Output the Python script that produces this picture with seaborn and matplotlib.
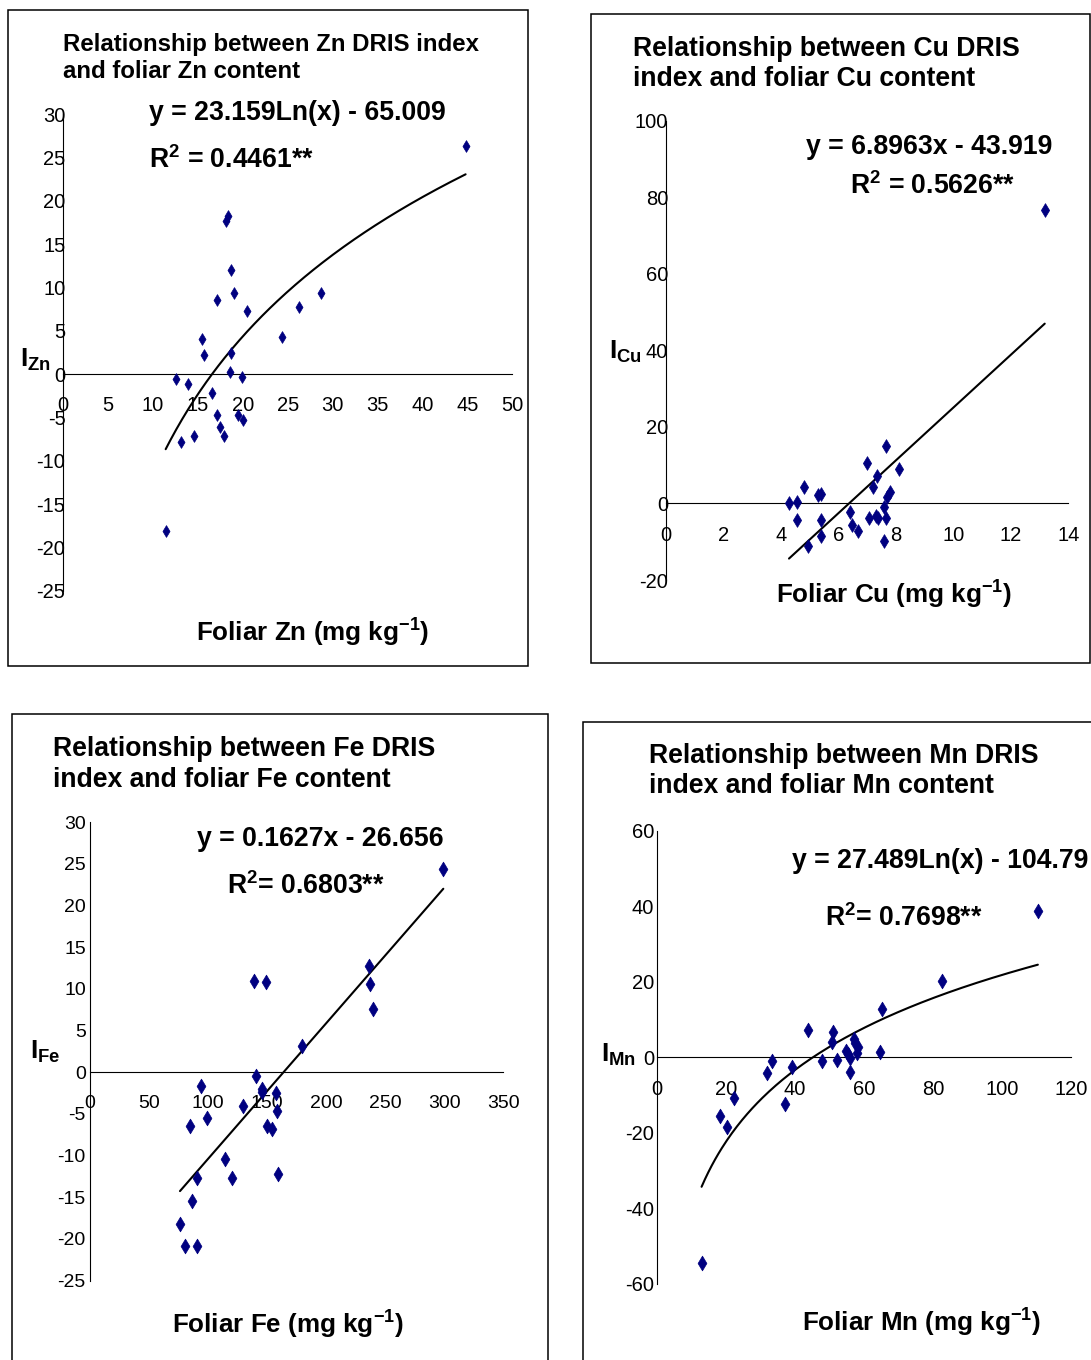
import numpy as np
import pandas as pd
import matplotlib
matplotlib.use("Agg")
import matplotlib.pyplot as plt
from matplotlib.patches import Rectangle
import seaborn as sns

# Zn panel
zn_x = [44.8, 18.1, 18.3, 18.7, 19.0, 17.1, 20.5, 26.2, 28.7, 24.4, 15.5, 15.7, 18.7,
        18.6, 19.9, 12.5, 13.9, 16.6, 17.1, 19.5, 20.0, 17.5, 17.9, 14.5, 13.1, 11.4]
zn_y = [26.3, 17.7, 18.2, 12.0, 9.4, 8.6, 7.3, 7.7, 9.4, 4.3, 4.0, 2.2, 2.5,
        0.3, -0.35, -0.6, -1.1, -2.2, -4.7, -4.7, -5.3, -6.1, -7.1, -7.1, -7.8, -18.1]

# Cu panel
cu_x = [13.18, 7.66, 6.98, 8.11, 7.36, 7.19, 4.79, 7.80, 7.69, 5.28, 5.38, 4.28, 4.57,
        7.58, 6.39, 4.57, 5.39, 7.07, 7.30, 7.37, 7.67, 6.47, 6.67, 5.39, 4.95, 7.58]
cu_y = [76.7, 15.1, 10.5, 9.0, 7.3, 4.4, 4.3, 3.1, 1.8, 2.3, 2.5, 0.0, 0.3,
        -1.0, -2.2, -4.3, -4.3, -3.7, -3.2, -3.8, -3.7, -5.7, -7.3, -8.4, -11.0, -9.9]

# Fe panel
fe_x = [299.2, 236.0, 237.1, 239.9, 138.6, 148.7, 179.8, 140.8, 93.7, 145.4, 145.9, 157.8, 129.3,
        158.1, 99.4, 84.4, 149.9, 154.4, 114.3, 90.3, 120.0, 158.9, 86.4, 76.2, 80.7, 90.3]
fe_y = [24.4, 12.8, 10.6, 7.6, 11.0, 10.8, 3.2, -0.44, -1.6, -2.0, -2.4, -2.5, -4.0,
        -4.6, -5.5, -6.5, -6.5, -6.8, -10.4, -12.7, -12.7, -12.2, -15.4, -18.2, -20.9, -20.9]

# Mn panel
mn_x = [110.4, 82.7, 65.3, 43.8, 51.2, 50.7, 57.2, 57.5, 58.3, 57.9, 54.8, 55.4, 56.1,
        64.6, 52.3, 47.9, 33.4, 31.9, 39.3, 56.1, 37.2, 22.3, 18.2, 20.5, 13.0]
mn_y = [38.8, 20.3, 12.7, 7.2, 6.7, 4.1, 4.8, 3.7, 2.8, 1.2, 1.8, 0.9, -0.3,
        1.5, -0.7, -1.1, -1.1, -4.2, -2.6, -3.9, -12.4, -10.9, -15.5, -18.4, -54.5]

W, H = 1091, 1360

sns.set_style("white")
plt.rcParams['font.family'] = ['Liberation Sans', 'DejaVu Sans']
plt.rcParams['mathtext.fontset'] = 'custom'
plt.rcParams['mathtext.rm'] = 'Liberation Sans'
plt.rcParams['mathtext.bf'] = 'Liberation Sans:bold'
plt.rcParams['mathtext.it'] = 'Liberation Sans:italic'
plt.rcParams['axes.unicode_minus'] = False
plt.rcParams['text.color'] = 'black'
plt.rcParams['xtick.color'] = 'black'
plt.rcParams['ytick.color'] = 'black'

fig = plt.figure(figsize=(W / 100, H / 100), dpi=100)


def ftext(x, y, s, size, ha='left', weight='bold'):
    fig.text(x / W, 1 - y / H, s, fontsize=size, ha=ha, va='center', fontweight=weight)


def box(x0, y0, x1, y1):
    fig.patches.append(Rectangle((x0 / W, 1 - y1 / H), (x1 - x0) / W, (y1 - y0) / H,
                                 transform=fig.transFigure, fill=False, lw=1.1, ec='black'))


def panel(rect, xs, ys, xlim, ylim, xticks, yticks, kind, a, b, ms, ypad, fs):
    left, right, top, bottom = rect
    ax = fig.add_axes([left / W, 1 - bottom / H, (right - left) / W, (bottom - top) / H])
    df = pd.DataFrame({'x': xs, 'y': ys})
    xx = np.linspace(min(xs), max(xs), 200)
    if kind == 'log':
        yy = a * np.log(xx) + b
    else:
        yy = a * xx + b
    sns.lineplot(x=xx, y=yy, ax=ax, color='black', lw=1.5)
    sns.scatterplot(data=df, x='x', y='y', ax=ax, marker='d', s=ms, color='#000080',
                    edgecolor='#000080', linewidth=0.5, zorder=3)
    ax.set_xlim(*xlim)
    ax.set_ylim(*ylim)
    ax.set_xticks(xticks)
    ax.set_yticks(yticks)
    for sp in ['top', 'right']:
        ax.spines[sp].set_visible(False)
    ax.spines['bottom'].set_position(('data', 0))
    for sp in ['left', 'bottom']:
        ax.spines[sp].set_color('black')
        ax.spines[sp].set_linewidth(0.8)
    ax.tick_params(axis='x', direction='out', length=3, width=0.8, pad=13, labelsize=fs)
    ax.tick_params(axis='y', direction='out', length=3, width=0.8, pad=ypad, labelsize=fs)
    ax.set_xlabel('')
    ax.set_ylabel('')
    ax.patch.set_alpha(0)
    return ax


# boxes
box(8, 10, 528, 666)
box(591, 14, 1090, 663)
box(12, 714, 548, 1362)
box(583, 722, 1093, 1362)

# Zn
panel((63.3, 512.3, 114, 591), zn_x, zn_y, (0, 50), (-25, 30),
      range(0, 51, 5), range(-25, 31, 5), 'log', 23.159, -65.009, 36, -4.5, 14.5)
ftext(63, 44, 'Relationship between Zn DRIS index', 17.3)
ftext(63, 71, 'and foliar Zn content', 17.3)
ftext(149, 113, 'y = 23.159Ln(x) - 65.009', 19.2)
ftext(149, 160, r'R$^{\mathbf{2}}$ = 0.4461**', 19.2)
ftext(313, 633, r'Foliar Zn (mg kg$^{\mathbf{-1}}$)', 18.7, ha='center')
ftext(20, 360, r'$\mathbf{I_{Zn}}$', 19)

# Cu
panel((666, 1068.3, 120.7, 580), cu_x, cu_y, (0, 14), (-20, 100),
      range(0, 15, 2), range(-20, 101, 20), 'lin', 6.8963, -43.919, 49, -4.5, 14.5)
ftext(633, 49, 'Relationship between Cu DRIS', 19.2)
ftext(633, 79, 'index and foliar Cu content', 19.2)
ftext(806, 147, 'y = 6.8963x - 43.919', 19.2)
ftext(850, 186, r'R$^{\mathbf{2}}$ = 0.5626**', 19.2)
ftext(894, 595, r'Foliar Cu (mg kg$^{\mathbf{-1}}$)', 18.7, ha='center')
ftext(609, 352, r'$\mathbf{I_{Cu}}$', 19)

# Fe
panel((90, 503.3, 822.3, 1280.6), fe_x, fe_y, (0, 350), (-25, 30),
      range(0, 351, 50), range(-25, 31, 5), 'lin', 0.1627, -26.656, 56, 0, 14)
ftext(53, 749, 'Relationship between Fe DRIS', 19.2)
ftext(53, 780, 'index and foliar Fe content', 19.2)
ftext(197, 839, 'y = 0.1627x - 26.656', 19.2)
ftext(227, 886, r'R$^{\mathbf{2}}$= 0.6803**', 19.2)
ftext(288, 1325, r'Foliar Fe (mg kg$^{\mathbf{-1}}$)', 18.7, ha='center')
ftext(30, 1052, r'$\mathbf{I_{Fe}}$', 19)

# Mn
panel((656.7, 1071, 830.7, 1283.9), mn_x, mn_y, (0, 120), (-60, 60),
      range(0, 121, 20), range(-60, 61, 20), 'log', 27.489, -104.79, 56, -1, 14.5)
ftext(649, 756, 'Relationship between Mn DRIS', 19.2)
ftext(649, 786, 'index and foliar Mn content', 19.2)
ftext(792, 861, 'y = 27.489Ln(x) - 104.79', 19.2)
ftext(825, 918, r'R$^{\mathbf{2}}$= 0.7698**', 19.2)
ftext(922, 1323, r'Foliar Mn (mg kg$^{\mathbf{-1}}$)', 18.7, ha='center')
ftext(601, 1055, r'$\mathbf{I_{Mn}}$', 19)

fig.savefig('out.png', dpi=100)
